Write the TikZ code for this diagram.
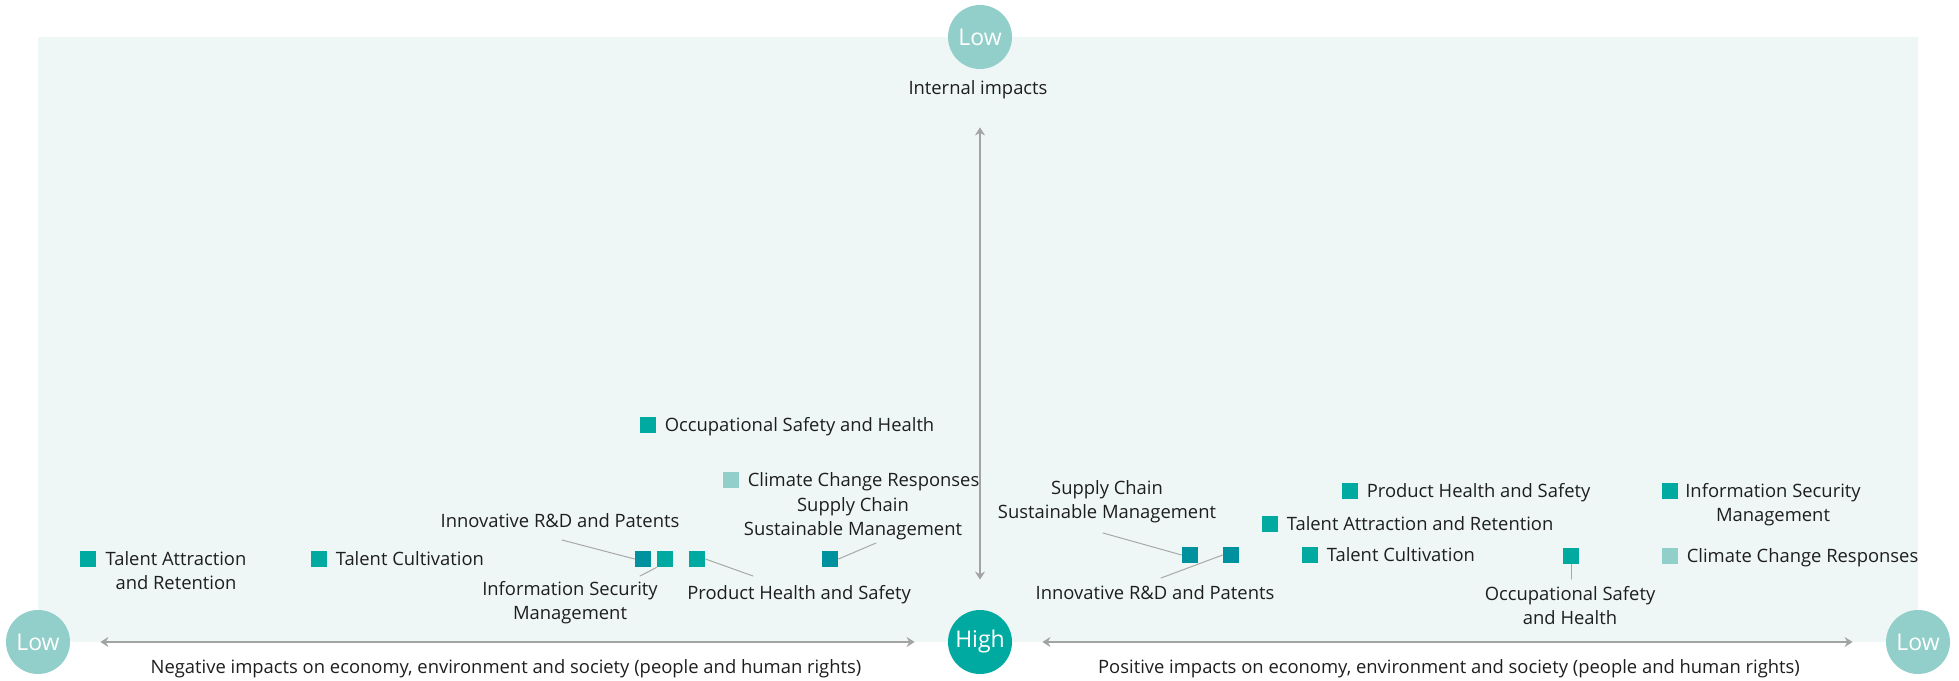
\documentclass[tikz,border=0pt]{standalone}
\usepackage{fontspec}
\setmainfont{Open Sans}
\usetikzlibrary{arrows.meta, positioning}

\definecolor{bgteal}{HTML}{EEF7F6}
\definecolor{midteal}{HTML}{00AAA0}
\definecolor{darkteal}{HTML}{00919E}
\definecolor{paleteal}{HTML}{92CFCA}
\definecolor{leadgray}{HTML}{A8A8A8}
\definecolor{axisgray}{HTML}{A3A3A3}
\definecolor{inkblack}{HTML}{1E1E1E}

\begin{document}
\begin{tikzpicture}[x=0.5pt,y=-0.5pt,line cap=round,line join=round,
  lbl/.style={inner sep=0pt, text=inkblack, font=\fontsize{9.2}{12}\selectfont, text height=7pt, text depth=0.5pt},
  lbltwo/.style={inner sep=0pt, text=inkblack, font=\fontsize{9.2}{12}\selectfont, align=center},
  sqmark/.style={fill=#1, minimum size=8pt, inner sep=0pt},
  badge/.style={circle, fill=#1, minimum size=32pt, inner sep=0pt, text=white, font=\fontsize{11.5}{13}\selectfont},
  axisline/.style={draw=axisgray, line width=0.75pt, {Stealth[length=4pt,width=5pt]}-{Stealth[length=4pt,width=5pt]}},
  lead/.style={draw=leadgray, line width=0.5pt}]

\useasboundingbox (0,0) rectangle (1959,680);
\fill[bgteal] (38,37) rectangle (1918,642);

% Low / High badges and axes
\node[badge=paleteal] (lowT) at (980,37) {Low};
\node[badge=midteal] (high) at (980,642) {High};
\node[badge=paleteal] (lowL) at (38,642) {Low};
\node[badge=paleteal] (lowR) at (1918,642) {Low};

\node[lbl] (intlbl) at (978,88) {Internal impacts};
\node[lbl] (neglbl) at (506,667) {Negative impacts on economy, environment and society (people and human rights)};
\node[lbl] (poslbl) at (1449,667) {Positive impacts on economy, environment and society (people and human rights)};

\draw[axisline, shorten <=29pt, shorten >=15pt] (lowT) -- (high);   % internal
\draw[axisline, shorten <=15pt, shorten >=16.5pt] (lowL) -- (high); % negative
\draw[axisline, shorten <=15pt, shorten >=16.5pt] (high) -- (lowR); % positive

% Squares with their label beside them
\foreach \x/\y/\nm/\col/\txt in {
  648/425/occL/midteal/Occupational Safety and Health,
  731/480/climL/paleteal/Climate Change Responses,
  319/559/cultL/midteal/Talent Cultivation,
  1350/491/prodR/midteal/Product Health and Safety,
  1270/524/talR/midteal/Talent Attraction and Retention,
  1310/555/cultR/midteal/Talent Cultivation,
  1670/556/climR/paleteal/Climate Change Responses
} {
  \node[sqmark=\col] (sq\nm) at (\x,\y) {};
  \node[lbl, right=4pt of sq\nm] (tx\nm) {\txt};
}

\node[sqmark=midteal] (sqtalL) at (88,559) {};
\node[lbltwo] (txtalL) at (176,571) {Talent Attraction\\and Retention};
\node[sqmark=midteal] (sqisR) at (1670,491) {};
\node[lbltwo] (txisR) at (1773,505) {Information Security\\Management};

% Squares with a leader line to the label
\coordinate (ldrdL) at (562,540);
\coordinate (ldisL) at (640,576);
\coordinate (ldprL) at (753,576);
\coordinate (ldscL) at (876,543);
\coordinate (ldscR) at (1103,533);
\coordinate (ldrdR) at (1161,578);
\coordinate (ldocR) at (1571,579);

\node[sqmark=darkteal] (sqrdL) at (643,559) {};
\node[sqmark=midteal] (sqisL) at (665,559) {};
\node[sqmark=midteal] (sqprL) at (697,559) {};
\node[sqmark=darkteal] (sqscL) at (830,559) {};
\node[sqmark=darkteal] (sqscR) at (1190,555) {};
\node[sqmark=darkteal] (sqrdR) at (1231,555) {};
\node[sqmark=midteal] (sqocR) at (1571,556) {};

\node[lbl] (txrdL) at (560,521) {Innovative R\&D and Patents};
\node[lbltwo] (txisL) at (570,603) {Information Security\\Management};
\node[lbl, anchor=west] (txprL) at (687,593) {Product Health and Safety};
\node[lbltwo] (txscL) at (853,519) {Supply Chain\\Sustainable Management};
\node[lbltwo] (txscR) at (1107,502) {Supply Chain\\Sustainable Management};
\node[lbl] (txrdR) at (1155,593) {Innovative R\&D and Patents};
\node[lbltwo] (txocR) at (1570,606) {Occupational Safety\\and Health};

\draw[lead] (ldrdL) -- (sqrdL.west);
\draw[lead] (sqisL.south west) -- (ldisL);
\draw[lead] (sqprL.east) -- (ldprL);
\draw[lead] (sqscL.east) -- (ldscL);
\draw[lead] (ldscR) -- (sqscR.west);
\draw[lead] (sqrdR.west) -- (ldrdR);
\draw[lead] (sqocR.south) -- (ldocR);

\end{tikzpicture}
\end{document}
